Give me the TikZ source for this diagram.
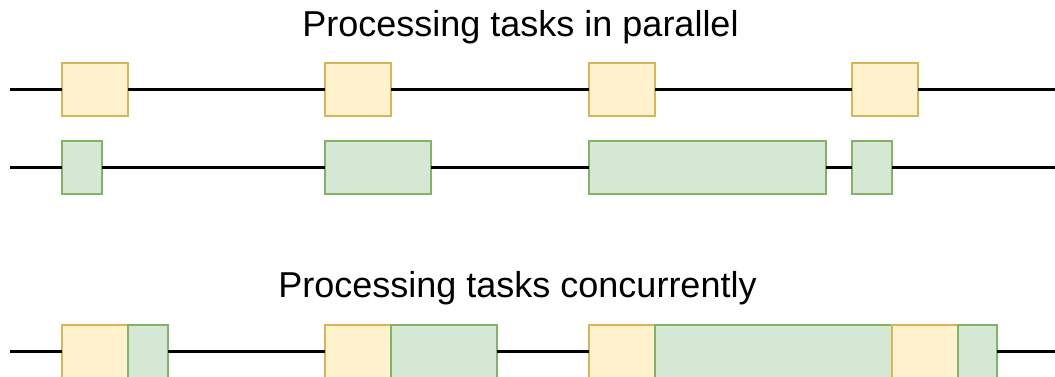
\documentclass[tikz,border=0pt]{standalone}
\usepackage{fontspec}
\setmainfont{Liberation Sans}
\usepackage{tikz}
\usetikzlibrary{positioning}
\usepackage{xcolor}
\definecolor{yfill}{HTML}{FFF2CC}
\definecolor{ystroke}{HTML}{D6B656}
\definecolor{gfill}{HTML}{D5E8D4}
\definecolor{gstroke}{HTML}{82B366}

\begin{document}
\begin{tikzpicture}[x=1pt, y=-1pt,
        task/.style={rectangle, draw, line width=1.3pt, inner sep=0pt, outer sep=0pt, minimum height=53},
        ytask/.style={task, fill=yfill, draw=ystroke},
        gtask/.style={task, fill=gfill, draw=gstroke},
        title/.style={anchor=base, inner sep=0pt, font=\fontsize{36}{43}\selectfont},
        every path/.style={line width=2.2pt}]
            \useasboundingbox (0,0) rectangle (1055,377);

            \node[title] (t1) at (520.5, 37) {Processing tasks in parallel};
            \node[title] (t2) at (517.5, 297) {Processing tasks concurrently};

            % first worker
            \coordinate (s1) at (10, 89.5);
            \coordinate (e1) at (1055, 89.5);
            \node[ytask, minimum width=66] (p1) at (95, 89.5) {};
            \node[ytask, minimum width=66] (p2) at (358, 89.5) {};
            \node[ytask, minimum width=66] (p3) at (622, 89.5) {};
            \node[ytask, minimum width=66] (p4) at (885, 89.5) {};
            \draw (s1) -- (p1) -- (p2) -- (p3) -- (p4) -- (e1);

            % second worker
            \coordinate (s2) at (10, 167.5);
            \coordinate (e2) at (1055, 167.5);
            \node[gtask, minimum width=40] (q1) at (82, 167.5) {};
            \node[gtask, minimum width=106] (q2) at (378, 167.5) {};
            \node[gtask, minimum width=237] (q3) at (707.5, 167.5) {};
            \node[gtask, minimum width=40] (q4) at (872, 167.5) {};
            \draw (s2) -- (q1) -- (q2) -- (q3) -- (q4) -- (e2);

            % single worker
            \coordinate (s3) at (10, 351.5);
            \coordinate (e3) at (1055, 351.5);
            \node[ytask, minimum width=66] (c1) at (95, 351.5) {};
            \node[gtask, minimum width=40] (c2) at (148, 351.5) {};
            \node[ytask, minimum width=66] (c3) at (358, 351.5) {};
            \node[gtask, minimum width=106] (c4) at (444, 351.5) {};
            \node[ytask, minimum width=66] (c5) at (622, 351.5) {};
            \node[gtask, minimum width=237] (c6) at (773.5, 351.5) {};
            \node[ytask, minimum width=66] (c7) at (925, 351.5) {};
            \node[gtask, minimum width=39] (c8) at (977.5, 351.5) {};
            \draw (s3) -- (c1) (c2) -- (c3) (c4) -- (c5) (c8) -- (e3);
        \end{tikzpicture}
\end{document}
